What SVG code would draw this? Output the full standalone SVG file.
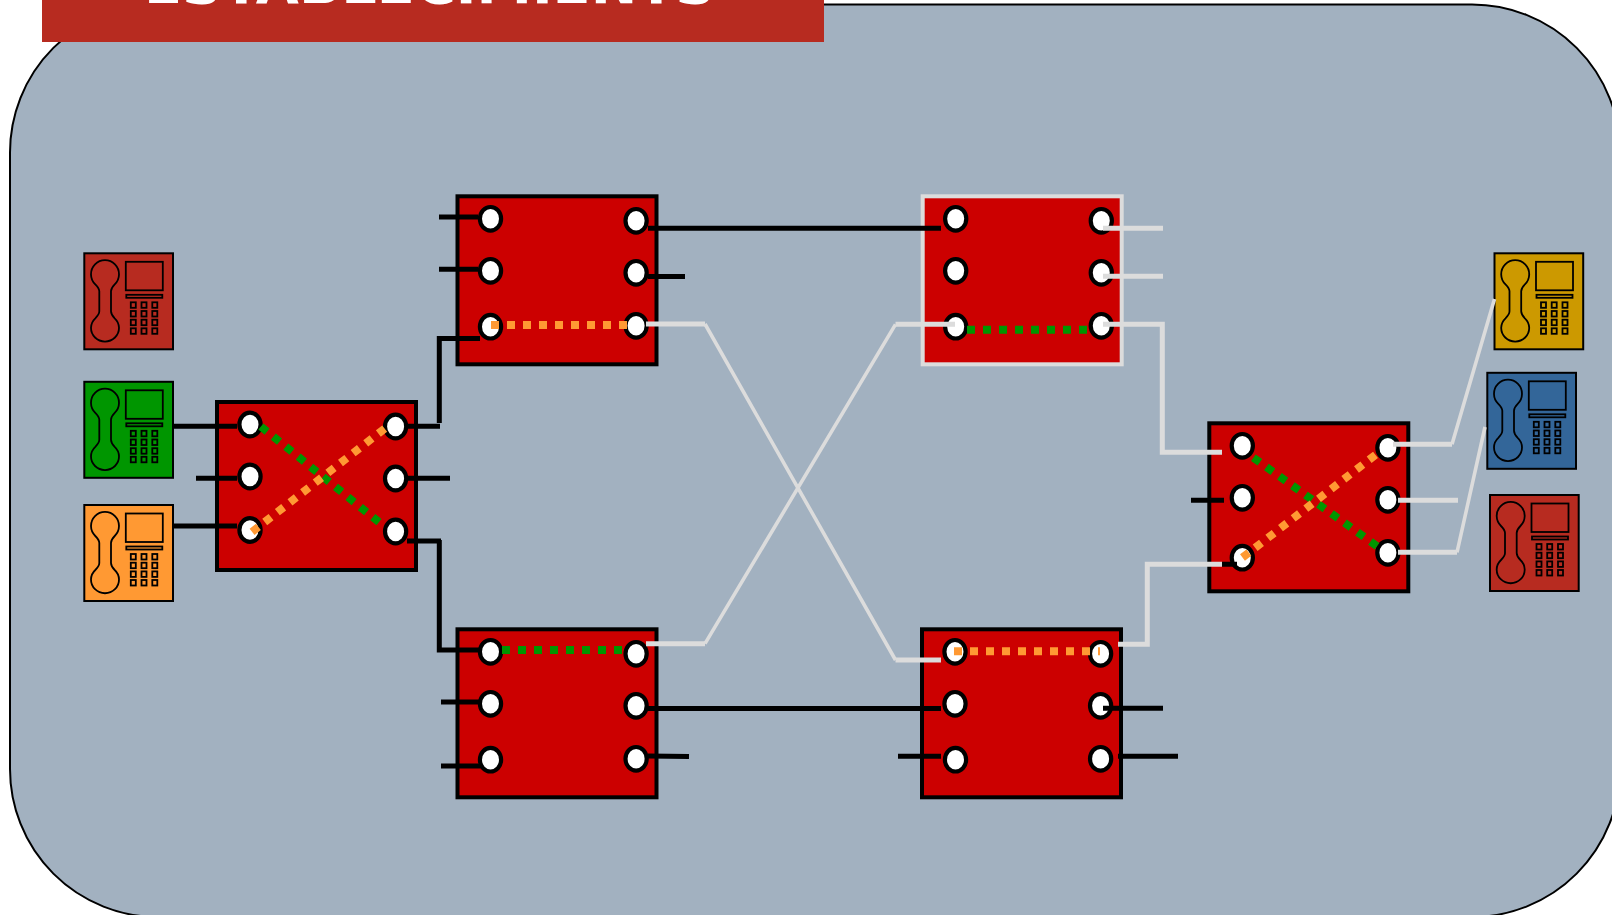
<svg xmlns="http://www.w3.org/2000/svg" width="1612" height="915" viewBox="0 0 1612 915">
<style>
.bg{fill:#a2b1c0;stroke:#000;stroke-width:2}
.title{fill:#b72b20}
.tt{font-family:"DejaVu Sans",sans-serif;font-weight:bold;font-size:55.700px;fill:#fff}
.box{fill:#cc0000;stroke:#000;stroke-width:4}
.box.lt{stroke:#dcdcdc}
.port{fill:#fff;stroke:#000;stroke-width:4.200}
.k,.g,.gd,.dg,.do{fill:none}
.k{stroke:#000;stroke-width:5}
.g{stroke:#dcdcdc;stroke-width:5}
.gd{stroke:#dcdcdc;stroke-width:3.600}
.dg{stroke:#009600;stroke-width:8;stroke-dasharray:8 8}
.do{stroke:#ff9933;stroke-width:8;stroke-dasharray:8 8}
.ph{stroke:#000;stroke-width:2}
.ln{fill:none;stroke:#000;stroke-width:1.800}
</style>
<defs>
<g id="ports">
<ellipse class="port" cx="33" cy="22.500" rx="10.600" ry="11.800"/>
<ellipse class="port" cx="33" cy="74.500" rx="10.600" ry="11.800"/>
<ellipse class="port" cx="178.600" cy="24.500" rx="10.600" ry="11.800"/>
<ellipse class="port" cx="178.600" cy="76.500" rx="10.600" ry="11.800"/>
<ellipse class="port" cx="178.600" cy="129.500" rx="10.600" ry="11.800"/>
</g>
<g id="phone">
<rect class="ph" x="0" y="0" width="88.700" height="96"/>
<path class="ln" d="M15 38C15 35 13.500 33.500 11 31A14 14 0 1 1 30.400 31C27.900 33.500 26.700 35 26.700 38V58C26.700 61 27.900 62.500 30.400 65A14 13.500 0 1 1 11 65C13.500 62.500 15 61 15 58Z"/>
<rect class="ln" x="41.500" y="8.500" width="37" height="28.500"/>
<rect class="ln" x="42" y="41.500" width="36" height="3"/>
<g class="ln">
<rect x="46.500" y="49" width="5" height="5.500"/><rect x="57.200" y="49" width="5" height="5.500"/><rect x="68" y="49" width="5" height="5.500"/>
<rect x="46.500" y="57.700" width="5" height="5.500"/><rect x="57.200" y="57.700" width="5" height="5.500"/><rect x="68" y="57.700" width="5" height="5.500"/>
<rect x="46.500" y="66.400" width="5" height="5.500"/><rect x="57.200" y="66.400" width="5" height="5.500"/><rect x="68" y="66.400" width="5" height="5.500"/>
<rect x="46.500" y="75" width="5" height="5.500"/><rect x="57.200" y="75" width="5" height="5.500"/><rect x="68" y="75" width="5" height="5.500"/>
</g>
</g>
</defs>
<rect id="background" class="bg" x="10" y="4.500" width="1610" height="912.500" rx="148" ry="148"/>
<g id="title"><rect class="title" x="42" y="-20" width="782" height="62"/><text class="tt" x="144" y="2.500">ESTABLECIMIENTS</text></g>
<g id="phone-red-left"><use href="#phone" x="84.300" y="253.300" fill="#b72b20"/></g>
<g id="phone-green"><use href="#phone" x="84.300" y="381.800" fill="#009600"/></g>
<g id="phone-orange"><use href="#phone" x="84.300" y="505" fill="#ff9933"/></g>
<g id="phone-yellow"><use href="#phone" x="1494.500" y="253.300" fill="#cc9900"/></g>
<g id="phone-blue"><use href="#phone" x="1487.300" y="372.800" fill="#336699"/></g>
<g id="phone-red-right"><use href="#phone" x="1490" y="495" fill="#b72b20"/></g>
<g id="node-a"><rect class="box" x="217" y="402" width="199" height="168"/><use href="#ports" x="217" y="402"/><ellipse class="port" cx="250" cy="530" rx="10.600" ry="11.800"/></g>
<g id="node-b"><rect class="box" x="457.500" y="196.300" width="199" height="168"/><use href="#ports" x="457.500" y="196.300"/><ellipse class="port" cx="490.500" cy="326.700" rx="10.600" ry="11.800"/></g>
<g id="node-c"><rect class="box" x="457.500" y="629.300" width="199" height="168"/><use href="#ports" x="457.500" y="629.300"/><ellipse class="port" cx="490.500" cy="759.700" rx="10.600" ry="11.800"/></g>
<g id="node-d"><rect class="box lt" x="922.700" y="196.300" width="199" height="168"/><use href="#ports" x="922.700" y="196.300"/><ellipse class="port" cx="955.700" cy="326.700" rx="10.600" ry="11.800"/></g>
<g id="node-e"><rect class="box" x="922" y="629.300" width="199" height="168"/><use href="#ports" x="922" y="629.300"/><ellipse class="port" cx="955.500" cy="759.700" rx="10.600" ry="11.800"/></g>
<g id="node-f"><rect class="box" x="1209.300" y="423.300" width="199" height="168"/><use href="#ports" x="1209.300" y="423.300"/><ellipse class="port" cx="1242.300" cy="557.700" rx="10.600" ry="11.800"/></g>
<g id="connectors">
<path class="k" d="M173 426.300H237M196 478.300H237M174 526H237M407 426.300H440M407 478.300H450M407 541H441M439.300 423V338.500H480M439.300 540V650H482"/>
<path class="k" d="M439 217H478M439 269.300H478M648 228.300H941M648 276.500H685"/>
<path class="k" d="M441 702H482M441 766H482M648 708.400H941M648 756L689 756.600"/>
<path class="k" d="M898 756.300H941M1103 708.300H1163M1118 756.300H1178M1191 500.300H1224M1222 564.300H1237"/>
<path class="g" d="M646 324H705M895.500 660H941M646 643.700H705M895.500 324.300H955"/>
<path class="gd" d="M705 324L895.500 660M705 643.700L895.500 324.300"/>
<path class="g" d="M1103 228.300H1163M1103 276.300H1163M1103 324.300H1162.300V452.300H1222M1118 644.300H1147.300V564.300H1222"/>
<path class="g" d="M1393 444.300H1452M1398 500.300H1458M1398 552.300H1457"/>
<path class="gd" d="M1452 444.300L1494.500 299M1457 552.300L1485 427"/>
<path class="do" d="M491 325H627"/>
<path class="dg" d="M967 329.700H1087"/>
<path class="dg" d="M502 650H624"/>
<path class="do" d="M954 651.300H1100"/>
<path class="dg" d="M260.900 426.500L379.400 522.500"/>
<path class="do" d="M252.100 531.800L385.200 428.200"/>
<path class="dg" d="M1253.400 457.700L1377.250 546.300"/>
<path class="do" d="M1242.500 557.500L1375.900 454.500"/>
</g>
</svg>
